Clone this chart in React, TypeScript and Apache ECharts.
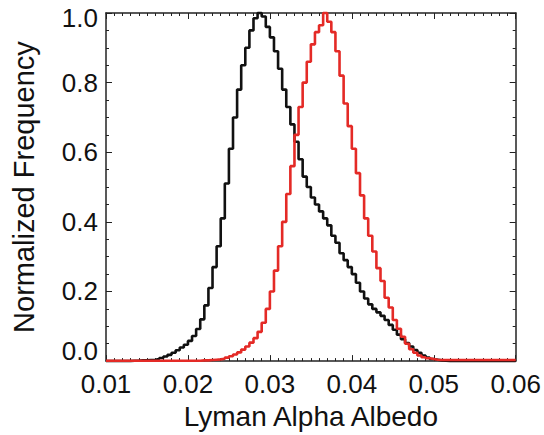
import React, { useEffect, useRef } from "react";
import * as echarts from "echarts";

// Histogram bins: left edges start at 0.010, width 0.0005 (100 bins up to 0.060)
const binStart = 0.01;
const binWidth = 0.0005;

// Black histogram (normalized frequency per bin)
const blackValues = [
  0.0005, 0.0005, 0.0005, 0.0005, 0.0005, 0.0005, 0.001, 0.001, 0.002, 0.002,
  0.003, 0.004, 0.006, 0.009, 0.013, 0.018, 0.024, 0.031, 0.039, 0.047,
  0.058, 0.072, 0.092, 0.12, 0.16, 0.21, 0.27, 0.33, 0.41, 0.51,
  0.61, 0.70, 0.78, 0.85, 0.90, 0.95, 0.985, 1.0, 0.99, 0.96,
  0.93, 0.89, 0.84, 0.78, 0.73, 0.68, 0.63, 0.58, 0.53, 0.50,
  0.47, 0.45, 0.43, 0.41, 0.39, 0.36, 0.34, 0.31, 0.29, 0.27,
  0.25, 0.225, 0.20, 0.18, 0.163, 0.15, 0.14, 0.13, 0.118, 0.104,
  0.09, 0.076, 0.063, 0.052, 0.042, 0.032, 0.024, 0.016, 0.01, 0.006,
  0.004, 0.002, 0.001, 0.0005, 0.0005, 0.0005, 0.0005, 0.0005, 0.0005, 0.0005,
  0.0005, 0.0005, 0.0005, 0.0005, 0.0005, 0.0005, 0.0005, 0.0005, 0.0005, 0.0005,
];

// Red histogram (normalized frequency per bin)
const redValues = [
  0.001, 0.001, 0.001, 0.001, 0.001, 0.001, 0.001, 0.001, 0.001, 0.001,
  0.001, 0.001, 0.001, 0.001, 0.001, 0.001, 0.001, 0.001, 0.001, 0.001,
  0.001, 0.001, 0.001, 0.002, 0.002, 0.003, 0.004, 0.005, 0.007, 0.01,
  0.014, 0.019, 0.025, 0.033, 0.042, 0.053, 0.066, 0.084, 0.11, 0.15,
  0.20, 0.26, 0.33, 0.40, 0.48, 0.56, 0.65, 0.73, 0.80, 0.86,
  0.91, 0.945, 0.965, 1.0, 0.975, 0.945, 0.89, 0.82, 0.74, 0.675,
  0.61, 0.54, 0.476, 0.41, 0.36, 0.315, 0.267, 0.23, 0.182, 0.154,
  0.118, 0.093, 0.07, 0.05, 0.034, 0.024, 0.016, 0.011, 0.008, 0.006,
  0.004, 0.003, 0.003, 0.003, 0.003, 0.003, 0.003, 0.003, 0.003, 0.003,
  0.003, 0.003, 0.003, 0.003, 0.003, 0.003, 0.003, 0.003, 0.003, 0.003,
];

const xTicks = [0.01, 0.02, 0.03, 0.04, 0.05, 0.06];
const yTicks = [0.0, 0.2, 0.4, 0.6, 0.8, 1.0];
const xTitle = "Lyman Alpha Albedo";
const yTitle = "Normalized Frequency";

const FONT = "'Liberation Sans', Arial, Helvetica, sans-serif";
const AXIS_COLOR = "#222";

function toSteps(values: number[]): [number, number][] {
  const pts: [number, number][] = values.map((v, k) => [binStart + k * binWidth, v]);
  pts.push([binStart + values.length * binWidth, values[values.length - 1]]);
  return pts;
}

export default function App() {
  const ref = useRef<HTMLDivElement>(null);

  useEffect(() => {
    if (!ref.current) return;
    const chart = echarts.init(ref.current, null, { renderer: "svg" });

    const commonTick = {
      axisLine: { show: true, onZero: false, lineStyle: { color: AXIS_COLOR, width: 1.5 } },
      axisTick: { show: true, inside: true, length: 6, lineStyle: { color: AXIS_COLOR, width: 1 } },
      minorTick: { show: true, length: 3, lineStyle: { color: AXIS_COLOR, width: 1 } },
      splitLine: { show: false },
      minorSplitLine: { show: false },
    };

    const xBase = {
      type: "value" as const,
      min: xTicks[0],
      max: xTicks[xTicks.length - 1],
      interval: 0.01,
      ...commonTick,
      minorTick: { ...commonTick.minorTick, splitNumber: 10 },
    };
    const yBase = {
      type: "value" as const,
      min: yTicks[0],
      max: yTicks[yTicks.length - 1],
      interval: 0.2,
      ...commonTick,
      minorTick: { ...commonTick.minorTick, splitNumber: 4 },
    };

    const labelFont = { fontFamily: FONT, fontSize: 26, color: "#111" };

    chart.setOption({
      animation: false,
      backgroundColor: "#fff",
      grid: { left: 106, right: 27, top: 13, bottom: 69.5, containLabel: false },
      xAxis: [
        {
          ...xBase,
          position: "bottom",
          axisLabel: { ...labelFont, margin: 10, formatter: (v: number) => v.toFixed(2) },
          name: xTitle,
          nameLocation: "middle",
          nameGap: 33,
          nameTextStyle: { fontFamily: FONT, fontSize: 28, color: "#111" },
        },
        {
          ...xBase,
          position: "top",
          axisLabel: { show: false },
        },
      ],
      yAxis: [
        {
          ...yBase,
          position: "left",
          axisLabel: {
            margin: 8,
            formatter: (v: number) => {
              const s = v.toFixed(1);
              if (Math.abs(v) < 1e-9) return "{b|" + s + "}";
              if (Math.abs(v - 1) < 1e-9) return "{t|" + s + "}";
              return "{n|" + s + "}";
            },
            rich: {
              n: { ...labelFont },
              b: { ...labelFont, padding: [0, 0, 20, 0] },
              t: { ...labelFont, padding: [10, 0, 0, 0] },
            },
          },
          name: yTitle,
          nameLocation: "middle",
          nameGap: 68,
          nameTextStyle: { fontFamily: FONT, fontSize: 29, color: "#111" },
        },
        {
          ...yBase,
          position: "right",
          axisLabel: { show: false },
        },
      ],
      series: [
        {
          type: "line",
          name: "black",
          step: "end",
          data: toSteps(blackValues),
          showSymbol: false,
          symbol: "none",
          lineStyle: { color: "#111", width: 2.6 },
          clip: false,
          z: 3,
        },
        {
          type: "line",
          name: "red",
          step: "end",
          data: toSteps(redValues),
          showSymbol: false,
          symbol: "none",
          lineStyle: { color: "#e42a26", width: 2.6 },
          clip: false,
          z: 4,
        },
      ],
    });

    return () => chart.dispose();
  }, []);

  return (
    <div
      ref={ref}
      style={{ position: "absolute", left: 0, top: 0, width: 544, height: 435, background: "#fff" }}
    />
  );
}
